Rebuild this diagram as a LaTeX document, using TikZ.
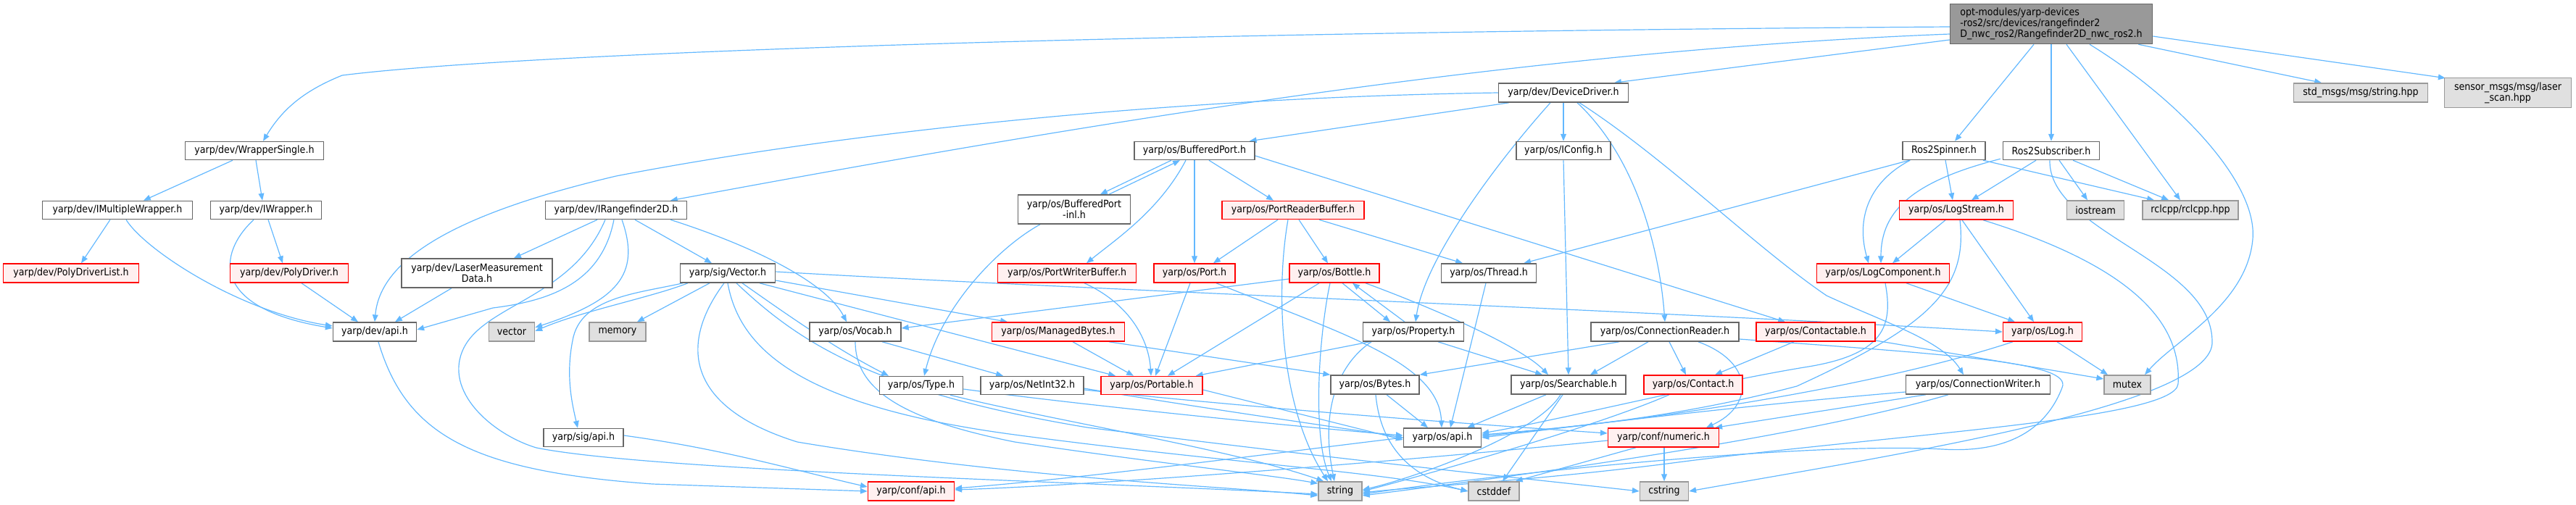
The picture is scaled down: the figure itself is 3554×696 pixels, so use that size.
\documentclass[tikz,border=0pt]{standalone}
\usepackage{fontspec}
\setmainfont{DejaVu Sans Condensed}
\usetikzlibrary{arrows.meta,calc}
\definecolor{eblue}{HTML}{63B8FF}
\definecolor{rfill}{HTML}{FFF0F0}
\definecolor{gfill}{HTML}{E0E0E0}
\definecolor{gline}{HTML}{999999}
\definecolor{dline}{HTML}{666666}
\pgfdeclarelayer{bg}
\pgfsetlayers{bg,main}
\tikzset{
 nb/.style={draw, line width=1.1pt, inner sep=0pt, align=center, font=\fontsize{10}{10.7}\selectfont},
 wn/.style={nb, draw=dline, fill=white},
 rn/.style={nb, draw=red, fill=rfill},
 gn/.style={nb, draw=gline, fill=gfill},
 mn/.style={nb, draw=dline, fill=gline, align=left},
 sz/.style 2 args={minimum width=#1*0.25mm, minimum height=#2*0.25mm},
 ed/.style={draw=eblue, line width=0.85pt, -{Triangle[length=7pt,width=5.5pt]}},
}
\begin{document}
\begin{tikzpicture}[x=0.25mm,y=-0.25mm]
\useasboundingbox (0,0) rectangle (3554,696);
% nodes
\node[mn,sz={279}{55}] (main) at (2830,33) {opt-modules/yarp-devices\\-ros2/src/devices/rangefinder2\\D\_nwc\_ros2/Rangefinder2D\_nwc\_ros2.h};
\node[wn,sz={191}{25}] (ws) at (351,208) {yarp/dev/WrapperSingle.h};
\node[wn,sz={207}{25}] (imw) at (162,290) {yarp/dev/IMultipleWrapper.h};
\node[wn,sz={153}{25}] (iw) at (367,290) {yarp/dev/IWrapper.h};
\node[rn,sz={187}{26}] (pdl) at (98,377) {yarp/dev/PolyDriverList.h};
\node[rn,sz={163}{26}] (pd) at (399,377) {yarp/dev/PolyDriver.h};
\node[wn,sz={208}{40}] (lmd) at (658,377) {yarp/dev/LaserMeasurement\\Data.h};
\node[wn,sz={115}{26}] (devapi) at (517,458) {yarp/dev/api.h};
\node[gn,sz={63}{26}] (vec) at (706,458) {vector};
\node[gn,sz={78}{26}] (mem) at (852,458) {memory};
\node[wn,sz={195}{25}] (irf) at (850,290) {yarp/dev/IRangefinder2D.h};
\node[wn,sz={131}{26}] (sigv) at (1004,377) {yarp/sig/Vector.h};
\node[wn,sz={110}{25}] (sigapi) at (805,604) {yarp/sig/api.h};
\node[wn,sz={126}{26}] (vocab) at (1180,458) {yarp/os/Vocab.h};
\node[rn,sz={183}{26}] (mb) at (1460,458) {yarp/os/ManagedBytes.h};
\node[wn,sz={115}{25}] (type) at (1271,532) {yarp/os/Type.h};
\node[wn,sz={142}{25}] (ni32) at (1424,532) {yarp/os/NetInt32.h};
\node[rn,sz={140}{25}] (portable) at (1589,532) {yarp/os/Portable.h};
\node[rn,sz={119}{26}] (confapi) at (1257,678) {yarp/conf/api.h};
\node[wn,sz={166}{25}] (bp) at (1648,208) {yarp/os/BufferedPort.h};
\node[wn,sz={155}{40}] (bpi) at (1482,289) {yarp/os/BufferedPort\\-inl.h};
\node[rn,sz={191}{26}] (pwb) at (1472,377) {yarp/os/PortWriterBuffer.h};
\node[rn,sz={112}{26}] (port) at (1648,377) {yarp/os/Port.h};
\node[rn,sz={196}{25}] (prb) at (1784,290) {yarp/os/PortReaderBuffer.h};
\node[wn,sz={179}{26}] (dd) at (2157,128) {yarp/dev/DeviceDriver.h};
\node[wn,sz={130}{25}] (icfg) at (2157,208) {yarp/os/IConfig.h};
\node[rn,sz={124}{26}] (bottle) at (1841,377) {yarp/os/Bottle.h};
\node[wn,sz={131}{26}] (thread) at (2054,377) {yarp/os/Thread.h};
\node[rn,sz={183}{26}] (logc) at (2598,377) {yarp/os/LogComponent.h};
\node[wn,sz={139}{26}] (prop) at (1950,458) {yarp/os/Property.h};
\node[wn,sz={204}{26}] (cr) at (2297,458) {yarp/os/ConnectionReader.h};
\node[rn,sz={164}{26}] (ctbl) at (2505,458) {yarp/os/Contactable.h};
\node[wn,sz={122}{26}] (bytes) at (1897,531) {yarp/os/Bytes.h};
\node[wn,sz={158}{26}] (srch) at (2164,531) {yarp/os/Searchable.h};
\node[rn,sz={136}{26}] (contact) at (2336,531) {yarp/os/Contact.h};
\node[wn,sz={107}{26}] (osapi) at (1990,604) {yarp/os/api.h};
\node[rn,sz={153}{26}] (num) at (2295,604) {yarp/conf/numeric.h};
\node[gn,sz={60}{26}] (str) at (1849,678) {string};
\node[gn,sz={70}{26}] (cstddef) at (2061,678) {cstddef};
\node[gn,sz={67}{26}] (cstring) at (2296,678) {cstring};
\node[gn,sz={185}{26}] (stdm) at (3257,128) {std\_msgs/msg/string.hpp};
\node[gn,sz={175}{41}] (sens) at (3460,128) {sensor\_msgs/msg/laser\\\_scan.hpp};
\node[wn,sz={114}{25}] (spin) at (2682,208) {Ros2Spinner.h};
\node[wn,sz={133}{25}] (sub) at (2830,208) {Ros2Subscriber.h};
\node[rn,sz={157}{26}] (logs) at (2699,290) {yarp/os/LogStream.h};
\node[gn,sz={79}{26}] (ios) at (2891,290) {iostream};
\node[gn,sz={132}{26}] (rcl) at (3022,290) {rclcpp/rclcpp.hpp};
\node[rn,sz={109}{26}] (log) at (2818,458) {yarp/os/Log.h};
\node[wn,sz={199}{26}] (cw) at (2729,531) {yarp/os/ConnectionWriter.h};
\node[gn,sz={64}{26}] (mutex) at (2935,531) {mutex};
% edges
\begin{pgfonlayer}{bg}
% main
\draw[ed] ($(main.west)+(0,4)$) .. controls (1500,45) and (700,75) .. (472,104) .. controls (420,125) and (390,150) .. ($(ws.north)+(12,0)$);
\draw[ed] ($(main.west)+(0,14)$) .. controls (2100,70) and (1500,170) .. ($(irf.north)+(75,0)$);
\draw[ed] ($(main.west)+(0,22)$) -- ($(dd.north)+(70,0)$);
\draw[ed] ($(main.south)+(-24,0)$) -- ($(spin.north)+(15,0)$);
\draw[ed] (main.south) -- (sub.north);
\draw[ed] ($(main.south)+(21,0)$) -- ($(rcl.north)+(-14,0)$);
\draw[ed] ($(main.south)+(53,0)$) .. controls (3000,133) and (3115,250) .. (3108,330) .. controls (3100,420) and (3000,470) .. ($(mutex.north)+(24,0)$);
\draw[ed] ($(main.south east)+(-20,0)$) -- ($(stdm.north)+(-54,0)$);
\draw[ed] ($(main.east)+(0,17)$) -- ($(sens.north west)+(2,1)$);
% wrappers
\draw[ed] ($(ws.south)+(-30,0)$) -- ($(imw.north)+(36,0)$);
\draw[ed] ($(ws.south)+(2,0)$) -- ($(iw.north)+(-5,0)$);
\draw[ed] ($(imw.south)+(-10,0)$) -- ($(pdl.north)+(14,0)$);
\draw[ed] ($(imw.south)+(12,0)$) .. controls (200,345) and (330,430) .. ($(devapi.west)+(0,-8)$);
\draw[ed] ($(iw.south)+(3,0)$) -- ($(pd.north)+(-9,0)$);
\draw[ed] ($(iw.south)+(-17,0)$) .. controls (300,350) and (290,425) .. ($(devapi.west)+(0,-5)$);
\draw[ed] ($(pd.south)+(17,0)$) -- ($(devapi.north)+(-23,0)$);
\draw[ed] ($(lmd.south)+(-35,0)$) -- ($(devapi.north)+(28,0)$);
\draw[ed] ($(devapi.south)+(5,0)$) .. controls (560,600) and (650,650) .. (900,668) -- (confapi.west);
% IRangefinder2D
\draw[ed] ($(irf.south)+(-26,0)$) -- ($(lmd.north)+(51,0)$);
\draw[ed] ($(irf.south)+(-3,0)$) .. controls (830,390) and (760,415) .. (680,425) -- ($(devapi.east)+(0,-3)$);
\draw[ed] ($(irf.south)+(8,0)$) .. controls (885,380) and (850,415) .. ($(vec.east)+(0,-6)$);
\draw[ed] ($(irf.south)+(-15,0)$) .. controls (790,410) and (670,420) .. (640,480) .. controls (610,540) and (680,600) .. (740,618) .. controls (900,650) and (1500,665) .. ($(str.west)+(0,4)$);
\draw[ed] ($(irf.south)+(26,0)$) -- ($(sigv.north)+(-22,0)$);
\draw[ed] ($(irf.south)+(75,0)$) .. controls (1040,340) and (1140,390) .. ($(vocab.north)+(-12,0)$);
% sig/Vector
\draw[ed] ($(sigv.south)+(-55,0)$) .. controls (900,410) and (800,430) .. ($(vec.east)+(0,-1)$);
\draw[ed] ($(sigv.south)+(-25,0)$) -- ($(mem.north)+(27,0)$);
\draw[ed] ($(sigv.south)+(-62,0)$) .. controls (880,405) and (800,410) .. (790,470) .. controls (780,520) and (790,560) .. ($(sigapi.north)+(-8,0)$);
\draw[ed] ($(sigv.south)+(-5,0)$) .. controls (940,470) and (940,560) .. (1100,610) .. controls (1400,660) and (1700,672) .. ($(str.west)+(0,6)$);
\draw[ed] ($(sigv.south)+(0,0)$) .. controls (1020,480) and (1100,560) .. (1400,600) .. controls (1700,640) and (1900,650) .. (cstddef.west);
\draw[ed] ($(sigv.south)+(12,0)$) .. controls (1100,470) and (1200,540) .. (1500,590) .. controls (1900,640) and (2100,660) .. (cstring.west);
\draw[ed] ($(sigv.south)+(20,0)$) .. controls (1080,430) and (1150,480) .. ($(type.north)+(-45,0)$);
\draw[ed] ($(sigv.south)+(44,0)$) -- ($(portable.north)+(-50,0)$);
\draw[ed] ($(sigv.east)+(0,10)$) -- ($(mb.north)+(-70,0)$);
\draw[ed] ($(sigv.east)+(0,-2)$) .. controls (1500,400) and (2300,430) .. (log.west);
\draw[ed] ($(sigapi.east)+(0,-3)$) .. controls (1000,620) and (1100,650) .. ($(confapi.west)+(0,-6)$);
% Vocab, Type, NetInt32, Portable, ManagedBytes
\draw[ed] ($(vocab.south)+(37,0)$) -- ($(ni32.north)+(-40,0)$);
\draw[ed] (vocab.south) .. controls (1180,540) and (1250,580) .. (1400,610) .. controls (1600,640) and (1750,655) .. ($(str.north west)+(0,3)$);
\draw[ed] ($(type.east)+(0,5)$) .. controls (1500,560) and (1800,590) .. ($(osapi.west)+(0,-3)$);
\draw[ed] ($(type.south)+(40,0)$) .. controls (1450,580) and (1700,620) .. ($(str.north west)+(8,0)$);
\draw[ed] ($(ni32.east)+(0,4)$) .. controls (1700,570) and (1850,590) .. (osapi.west);
\draw[ed] ($(ni32.east)+(0,6)$) .. controls (1800,570) and (2100,590) .. ($(num.west)+(0,-6)$);
\draw[ed] ($(portable.east)+(0,6)$) -- ($(osapi.west)+(0,3)$);
\draw[ed] ($(mb.south)+(20,0)$) -- ($(portable.north)+(-25,0)$);
\draw[ed] ($(mb.south)+(70,0)$) -- (bytes.north west);
% BufferedPort
\draw[ed] ($(bp.south)+(-32,0)$) -- ($(bpi.north)+(36,0)$);
\draw[ed] ($(bpi.north)+(48,0)$) -- ($(bp.south)+(-20,0)$);
\draw[ed] ($(bpi.south)+(-47,0)$) .. controls (1380,340) and (1300,420) .. ($(type.north)+(4,0)$);
\draw[ed] ($(bp.south)+(-12,0)$) .. controls (1600,290) and (1540,330) .. ($(pwb.north)+(27,0)$);
\draw[ed] (bp.south) -- (port.north);
\draw[ed] ($(bp.south)+(20,0)$) -- ($(prb.north)+(-27,0)$);
\draw[ed] ($(bp.east)+(0,7)$) -- ($(ctbl.north)+(-42,0)$);
\draw[ed] ($(pwb.south)+(24,0)$) .. controls (1560,420) and (1585,470) .. ($(portable.north)+(-1,0)$);
\draw[ed] ($(port.south)+(-6,0)$) -- ($(portable.north)+(5,0)$);
\draw[ed] ($(port.south)+(30,0)$) .. controls (1850,460) and (1985,500) .. ($(osapi.north)+(-1,0)$);
\draw[ed] ($(prb.south)+(-21,0)$) -- ($(port.north)+(26,0)$);
\draw[ed] ($(prb.south)+(8,0)$) -- ($(bottle.north)+(-9,0)$);
\draw[ed] ($(prb.south)+(36,0)$) -- ($(thread.north)+(-36,0)$);
\draw[ed] ($(prb.south)+(-7,0)$) .. controls (1760,400) and (1765,560) .. ($(str.north)+(-17,0)$);
% DeviceDriver
\draw[ed] (dd.west) .. controls (1600,135) and (1150,185) .. (850,243) .. controls (650,290) and (525,350) .. (devapi.north);
\draw[ed] ($(dd.south west)+(15,0)$) -- ($(bp.north east)+(-8,0)$);
\draw[ed] (dd.south) -- (icfg.north);
\draw[ed] ($(dd.south)+(-18,0)$) .. controls (2060,230) and (1965,360) .. ($(prop.north)+(3,0)$);
\draw[ed] ($(dd.south)+(19,0)$) .. controls (2260,220) and (2290,350) .. (cr.north);
\draw[ed] ($(dd.south)+(22,0)$) .. controls (2300,220) and (2420,340) .. (2520,408) .. controls (2600,445) and (2680,470) .. ($(cw.north)+(-20,0)$);
\draw[ed] (icfg.south) -- (srch.north);
% Ros2Spinner / Ros2Subscriber
\draw[ed] ($(spin.south west)+(10,0)$) -- ($(thread.north east)+(-18,0)$);
\draw[ed] ($(spin.south west)+(11,0)$) .. controls (2580,250) and (2560,300) .. ($(logc.north)+(-20,0)$);
\draw[ed] ($(spin.south)+(2,0)$) -- ($(logs.north)+(-5,0)$);
\draw[ed] ($(spin.south)+(54,0)$) -- ($(rcl.north)+(-50,0)$);
\draw[ed] ($(sub.south)+(-21,0)$) -- ($(logs.north)+(21,0)$);
\draw[ed] ($(sub.south west)+(-3,-2)$) .. controls (2640,250) and (2595,290) .. ($(logc.north)+(-3,0)$);
\draw[ed] ($(sub.south)+(11,0)$) -- ($(ios.north)+(-11,0)$);
\draw[ed] ($(sub.south)+(30,0)$) -- ($(rcl.north)+(-30,0)$);
\draw[ed] ($(sub.south)+(-2,0)$) .. controls (2826,320) and (3050,360) .. (3052,470) .. controls (3060,560) and (2600,630) .. (cstring.east);
% LogStream, LogComponent, Log
\draw[ed] ($(logs.south)+(-15,0)$) -- ($(logc.north)+(13,0)$);
\draw[ed] ($(logs.south)+(8,0)$) -- ($(log.north)+(-12,0)$);
\draw[ed] ($(logs.south)+(5,0)$) .. controls (2715,400) and (2660,450) .. (2479,533) .. controls (2300,580) and (2150,590) .. ($(osapi.east)+(0,-2)$);
\draw[ed] ($(logs.south)+(37,0)$) .. controls (2950,370) and (3010,450) .. (3005,530) .. controls (3000,580) and (2600,600) .. (2300,640) .. controls (2100,665) and (1950,672) .. ($(str.east)+(0,2)$);
\draw[ed] ($(logc.south)+(32,0)$) -- ($(log.north)+(-38,0)$);
\draw[ed] ($(logc.south)+(3,0)$) .. controls (2612,450) and (2600,490) .. (2489,507) .. controls (2350,530) and (2150,580) .. ($(osapi.east)+(0,-6)$);
\draw[ed] ($(log.south)+(20,0)$) -- ($(mutex.north)+(-27,0)$);
\draw[ed] ($(log.south)+(-41,0)$) .. controls (2600,530) and (2300,580) .. ($(osapi.east)+(0,-4)$);
% Contactable, ConnectionReader, ConnectionWriter
\draw[ed] ($(ctbl.south)+(-30,0)$) -- ($(contact.north)+(30,0)$);
\draw[ed] ($(ctbl.east)+(0,12)$) -- ($(mutex.west)+(0,-8)$);
\draw[ed] ($(cr.south)+(-63,0)$) -- (bytes.north east);
\draw[ed] ($(cr.south)+(-23,0)$) -- ($(srch.north)+(30,0)$);
\draw[ed] ($(cr.south)+(6,0)$) -- ($(contact.north)+(-10,0)$);
\draw[ed] ($(cr.south)+(46,0)$) .. controls (2420,500) and (2420,560) .. ($(num.north)+(59,0)$);
\draw[ed] ($(cr.east)+(0,10)$) .. controls (2700,490) and (2860,500) .. (2845,535) .. controls (2820,600) and (2760,625) .. (2680,620) .. controls (2500,610) and (2100,650) .. ($(str.east)+(0,4)$);
\draw[ed] ($(cw.west)+(0,10)$) .. controls (2400,560) and (2200,585) .. ($(osapi.east)+(0,0)$);
\draw[ed] ($(cw.south)+(-72,0)$) -- ($(num.north east)+(-6,0)$);
\draw[ed] ($(cw.south)+(-41,0)$) .. controls (2500,600) and (2150,650) .. ($(str.east)+(0,6)$);
% Bottle, Property
\draw[ed] ($(bottle.west)+(0,8)$) -- ($(vocab.east)+(0,-5)$);
\draw[ed] ($(bottle.south)+(-21,0)$) -- ($(portable.north)+(22,0)$);
\draw[ed] ($(bottle.south)+(-6,0)$) .. controls (1820,460) and (1810,600) .. ($(str.north)+(-12,0)$);
\draw[ed] ($(bottle.south)+(11,0)$) -- ($(prop.north)+(-32,0)$);
\draw[ed] ($(bottle.south)+(43,0)$) .. controls (1990,430) and (2100,480) .. ($(srch.north)+(-28,0)$);
\draw[ed] ($(prop.north)+(-12,0)$) -- ($(bottle.south)+(25,0)$);
\draw[ed] ($(prop.south)+(-58,0)$) .. controls (1850,500) and (1820,560) .. ($(str.north)+(-8,0)$);
\draw[ed] ($(prop.south)+(34,0)$) -- ($(srch.north)+(-36,0)$);
\draw[ed] ($(prop.south west)+(10,0)$) -- ($(portable.north east)+(-10,0)$);
% lower layer
\draw[ed] ($(thread.south)+(-4,0)$) -- ($(osapi.north)+(11,0)$);
\draw[ed] ($(bytes.south)+(16,0)$) -- ($(osapi.north)+(-20,0)$);
\draw[ed] ($(bytes.south)+(1,0)$) .. controls (1905,620) and (1950,660) .. (cstddef.west);
\draw[ed] ($(srch.south)+(-31,0)$) -- ($(osapi.north east)+(-20,0)$);
\draw[ed] ($(srch.south)+(-11,0)$) .. controls (2120,600) and (1950,660) .. ($(str.east)+(0,-2)$);
\draw[ed] ($(srch.south)+(-8,0)$) -- ($(cstddef.north)+(12,0)$);
\draw[ed] ($(contact.south)+(-33,0)$) .. controls (2200,590) and (1950,660) .. ($(str.east)+(0,0)$);
\draw[ed] (osapi.west) .. controls (1800,620) and (1500,660) .. ($(confapi.east)+(0,-4)$);
\draw[ed] ($(num.south)+(-38,0)$) -- ($(cstddef.north east)+(-6,0)$);
\draw[ed] ($(num.south)+(1,0)$) -- (cstring.north);
\draw[ed] ($(num.west)+(0,4)$) .. controls (1900,640) and (1500,670) .. ($(confapi.east)+(0,-2)$);
\end{pgfonlayer}
\end{tikzpicture}
\end{document}
